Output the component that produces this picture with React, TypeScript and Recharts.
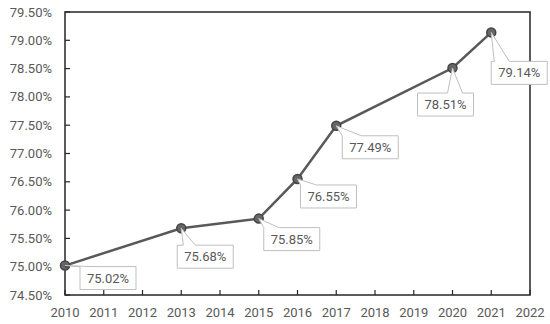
import React from 'react';
import { LineChart, Line, XAxis, YAxis, ReferenceArea, LabelList } from 'recharts';

// valores
const years = [2010, 2013, 2015, 2016, 2017, 2020, 2021];
const rates = [75.02, 75.68, 75.85, 76.55, 77.49, 78.51, 79.14];

const xTicks = [2010, 2011, 2012, 2013, 2014, 2015, 2016, 2017, 2018, 2019, 2020, 2021, 2022];
const yTicks = [74.5, 75, 75.5, 76, 76.5, 77, 77.5, 78, 78.5, 79, 79.5];

// posición de cada recuadro respecto a su punto: dx, dy, y el tramo de la flecha sobre el borde superior
const calloutOffsets = [
  { dx: 15, dy: 1, w1: 0, w2: 10 },
  { dx: -4, dy: 17, w1: 6, w2: 18 },
  { dx: 5, dy: 9, w1: 0, w2: 15 },
  { dx: 3, dy: 6, w1: 0, w2: 16 },
  { dx: 6, dy: 10, w1: 0, w2: 19 },
  { dx: -35, dy: 25, w1: 30, w2: 45 },
  { dx: 0, dy: 29, w1: 3, w2: 18 },
];

const data = years.map((year, i) => ({ year, rate: rates[i] }));

const FONT = 'Roboto, "Noto Sans", sans-serif';
const GRAY = '#595959';
const FS = 13;
const BOX_W = 56;
const BOX_H = 23;

const XTick = (props: any) => {
  const { x, y, payload } = props;
  return (
    <g>
      <line x1={x} y1={y} x2={x} y2={y - 5} stroke="#262626" strokeWidth={1.2} />
      <text x={x} y={y + 22} textAnchor="middle" fill={GRAY} fontSize={FS} fontFamily={FONT}>
        {payload.value}
      </text>
    </g>
  );
};

const YTick = (props: any) => {
  const { x, y, payload } = props;
  return (
    <g>
      <line x1={x} y1={y} x2={x + 5} y2={y} stroke="#262626" strokeWidth={1.2} />
      <text x={x - 13} y={y + 4.5} textAnchor="end" fill={GRAY} fontSize={FS} fontFamily={FONT}>
        {payload.value.toFixed(2)}%
      </text>
    </g>
  );
};

const Callout = (props: any) => {
  const { x, y, value, index } = props;
  const o = calloutOffsets[index];
  if (!o) return null;
  const bx = x + o.dx;
  const by = y + o.dy;
  const d = `M${bx},${by} L${bx + o.w1},${by} L${x},${y} L${bx + o.w2},${by} L${bx + BOX_W},${by} L${bx + BOX_W},${by + BOX_H} L${bx},${by + BOX_H} Z`;
  return (
    <g>
      <path d={d} fill="#fff" stroke="#bfbfbf" strokeWidth={1} />
      <text x={bx + BOX_W / 2} y={by + BOX_H / 2 + 4.5} textAnchor="middle" fill={GRAY} fontSize={FS} fontFamily={FONT}>
        {Number(value).toFixed(2)}%
      </text>
    </g>
  );
};

const App: React.FC = () => {
  return (
    <div style={{ position: 'absolute', left: 0, top: 0, background: '#fff' }}>
      <LineChart width={550} height={324} data={data} margin={{ top: 12, right: 20, bottom: 0, left: 0 }}>
        <XAxis
          dataKey="year"
          type="number"
          domain={[2010, 2022]}
          ticks={xTicks}
          axisLine={false}
          tickLine={false}
          tickSize={0}
          tickMargin={0}
          height={29}
          tick={<XTick />}
          interval={0}
        />
        <YAxis
          type="number"
          domain={[74.5, 79.5]}
          ticks={yTicks}
          axisLine={false}
          tickLine={false}
          tickSize={0}
          tickMargin={0}
          width={65}
          tick={<YTick />}
          interval={0}
        />
        <ReferenceArea x1={2010} x2={2022} y1={74.5} y2={79.5} fill="none" stroke="#262626" strokeWidth={1.5} />
        <Line
          dataKey="rate"
          stroke={GRAY}
          strokeWidth={2.5}
          dot={{ r: 4.5, fill: '#666', stroke: '#444', strokeWidth: 1.5 }}
          isAnimationActive={false}
        >
          <LabelList dataKey="rate" content={<Callout />} />
        </Line>
      </LineChart>
    </div>
  );
};

export default App;
